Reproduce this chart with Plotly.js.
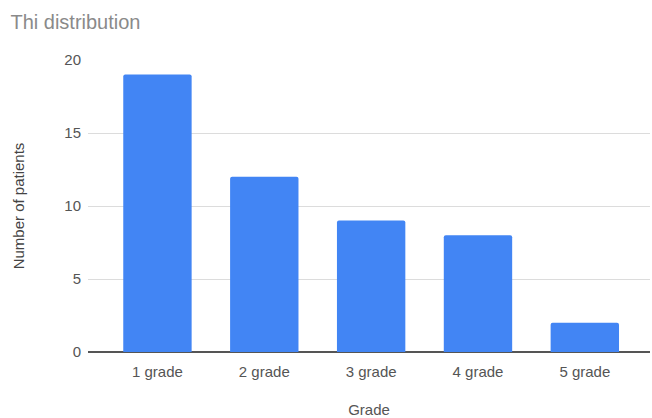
<!DOCTYPE html>
<html>
<head>
<meta charset="utf-8">
<script src="https://cdn.plot.ly/plotly-3.0.1.min.js"></script>
<style>html,body{margin:0;padding:0;background:#fff;}#chart{width:652px;height:418px;}</style>
</head>
<body>
<div id="chart"></div>
<script>
const categories = ["1 grade", "2 grade", "3 grade", "4 grade", "5 grade"];
const patients = [19, 12, 9, 8, 2];
const yTicks = [0, 5, 10, 15, 20];

const trace = {
  type: "bar",
  x: categories,
  y: patients,
  marker: { color: "#4285F4", cornerradius: 2 },
  hoverinfo: "x+y"
};

const FONT = "'Liberation Sans', Arial, sans-serif";

const layout = {
  width: 652,
  height: 418,
  margin: { l: 88, r: 2, t: 60, b: 66 },
  paper_bgcolor: "#fff",
  plot_bgcolor: "#fff",
  font: { family: FONT, size: 15, color: "#555" },
  title: {
    text: "Thi distribution",
    x: 0.016, xanchor: "left",
    y: 0.947, yanchor: "middle",
    font: { size: 20, color: "#8a8a8a", family: FONT }
  },
  bargap: 0.36,
  showlegend: false,
  xaxis: {
    type: "category",
    range: [-0.65, 4.61],
    showgrid: false,
    showline: false,
    ticks: "",
    ticklabelstandoff: 9,
    tickfont: { size: 15, color: "#555" },
    title: { text: "Grade", font: { size: 15, color: "#555" }, standoff: 27 }
  },
  yaxis: {
    range: [0, 20],
    tickvals: yTicks,
    ticktext: yTicks.map(String),
    showgrid: true,
    gridcolor: "#dcdcdc",
    gridwidth: 1,
    zeroline: true,
    zerolinecolor: "#555",
    zerolinewidth: 1.5,
    ticks: "",
    ticklabelstandoff: 6,
    tickfont: { size: 15, color: "#555" },
    title: { text: "Number of patients", font: { size: 15, color: "#444" }, standoff: 36 }
  }
};

Plotly.newPlot("chart", [trace], layout, { displayModeBar: false, staticPlot: true });
</script>
</body>
</html>
